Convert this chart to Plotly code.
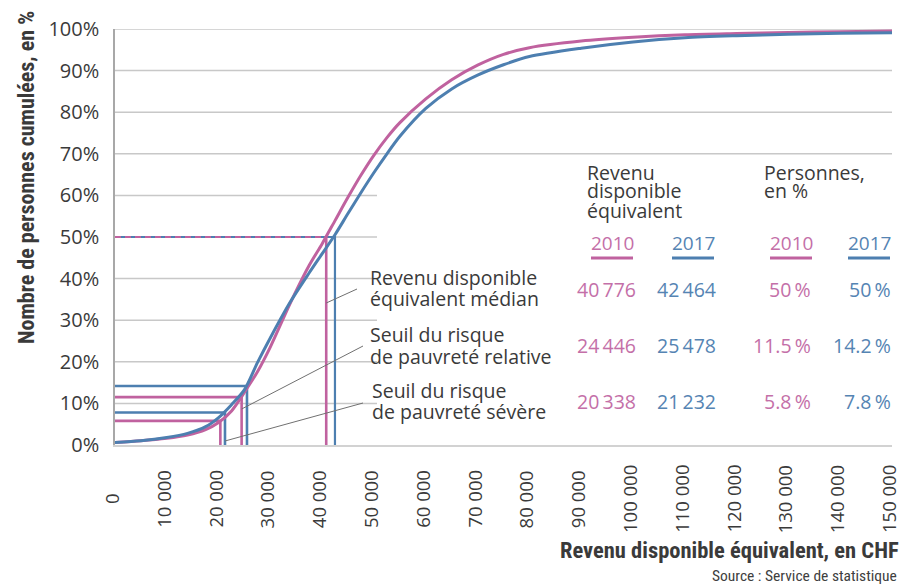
import plotly.graph_objects as go

# ---------------- data ----------------
income = [0, 5000, 10000, 14000, 17500, 20000, 22500, 25000, 27500, 30000, 33800,
          37500, 40000, 42500, 45000, 47500, 50000, 52500, 55000, 60000, 65000,
          70000, 75000, 80000, 90000, 100000, 110000, 120000, 130000, 140000, 150000]
cum_2010 = [0.6, 1.0, 1.6, 2.4, 3.7, 5.4, 8.2, 12.7, 17.6, 23.6, 34.0,
            43.2, 48.4, 54.0, 59.6, 64.9, 69.7, 73.9, 77.5, 83.2, 87.8,
            91.3, 93.9, 95.5, 97.1, 98.0, 98.6, 98.9, 99.15, 99.35, 99.5]
cum_2017 = [0.6, 1.0, 1.8, 2.8, 4.4, 6.6, 9.7, 13.3, 19.8, 25.8, 34.3,
            41.4, 46.0, 50.6, 55.7, 60.7, 65.5, 70.0, 74.2, 80.9, 85.6,
            88.9, 91.4, 93.4, 95.4, 96.9, 97.9, 98.4, 98.75, 99.0, 99.1]

years = ["2010", "2017"]
median_income = [40776, 42464]
relative_threshold = [24446, 25478]
severe_threshold = [20338, 21232]
median_pct = [50, 50]
relative_pct = [11.5, 14.2]
severe_pct = [5.8, 7.8]

x_ticks = [0, 10000, 20000, 30000, 40000, 50000, 60000, 70000, 80000, 90000,
           100000, 110000, 120000, 130000, 140000, 150000]
x_tick_labels = ["0", "10 000", "20 000", "30 000", "40 000", "50 000", "60 000",
                 "70 000", "80 000", "90 000", "100 000", "110 000", "120 000",
                 "130 000", "140 000", "150 000"]
y_ticks = [0, 10, 20, 30, 40, 50, 60, 70, 80, 90, 100]
y_tick_labels = ["0%", "10%", "20%", "30%", "40%", "50%", "60%", "70%", "80%", "90%", "100%"]

colors = ["#c0629f", "#4d7fb0"]
text_colors = ["#c46fa8", "#5584b3"]
TXT = "#3a3a3a"
FONT = "Open Sans, Noto Sans, sans-serif"
NARROW = "Liberation Sans Narrow, Roboto Condensed, DejaVu Sans Condensed, sans-serif"

# ---------------- geometry helpers ----------------
WIDTH, HEIGHT = 902, 587
L, R, T, B = 115, 892, 29, 445
X_MAX = 150000


def fx(px):
    return (px - L) / (R - L)


def fy(py):
    return (B - py) / (B - T)


def num(v):
    return f"{v:,}".replace(",", "\u2009")


def pct(v):
    return f"{v:g}" + "\u2009%"


fig = go.Figure()

# threshold reference lines
for thr, p in ((severe_threshold, severe_pct), (relative_threshold, relative_pct)):
    for i in range(2):
        fig.add_trace(go.Scatter(x=[0, thr[i], thr[i]], y=[p[i], p[i], 0], mode="lines",
                                 line=dict(color=colors[i], width=2.6), hoverinfo="skip"))
# median lines: blue solid, pink dashed horizontal on top
fig.add_trace(go.Scatter(x=[0, median_income[1], median_income[1]],
                         y=[median_pct[1], median_pct[1], 0], mode="lines",
                         line=dict(color=colors[1], width=2.2), hoverinfo="skip"))
fig.add_trace(go.Scatter(x=[median_income[0], median_income[0]], y=[median_pct[0], 0],
                         mode="lines", line=dict(color=colors[0], width=2.6), hoverinfo="skip"))
fig.add_trace(go.Scatter(x=[0, median_income[0]], y=[median_pct[0], median_pct[0]],
                         mode="lines", line=dict(color=colors[0], width=2.2, dash="6px,4px"),
                         hoverinfo="skip"))

# cumulative curves
for i, ys in enumerate((cum_2010, cum_2017)):
    fig.add_trace(go.Scatter(x=income, y=ys, mode="lines", name=years[i],
                             line=dict(color=colors[i], width=3, shape="spline", smoothing=0.8),
                             hoverinfo="skip"))

shapes = []
# gridlines (the ones under the table are cut)
for v in y_ticks[1:]:
    x1 = 1 if v >= 70 else fx(377)
    shapes.append(dict(type="line", xref="paper", yref="y", x0=0, x1=x1, y0=v, y1=v,
                       line=dict(color="#c8c8c8", width=1.5), layer="below"))

# leader lines
leaders = [((357, 289), (median_income[0], 303)),
           ((363, 346), (relative_threshold[0], 409)),
           ((363, 403), (severe_threshold[1], 441))]
for (sx, sy), (ex, ey) in leaders:
    shapes.append(dict(type="line", xref="paper", yref="paper",
                       x0=fx(sx), y0=fy(sy), x1=ex / X_MAX, y1=fy(ey),
                       line=dict(color="#707070", width=1)))

# year underlines in the table
col_centers = [612, 693, 791, 869]
for k, cx in enumerate(col_centers):
    shapes.append(dict(type="line", xref="paper", yref="paper",
                       x0=fx(cx - 21), x1=fx(cx + 21), y0=fy(258), y1=fy(258),
                       line=dict(color=colors[k % 2], width=3)))

annotations = []


def ann(text, px, py, xanchor="left", color=TXT, size=19.5, family=FONT, angle=0):
    annotations.append(dict(text=text, x=fx(px), y=fy(py), xref="paper", yref="paper",
                            xanchor=xanchor, yanchor="middle", showarrow=False, textangle=angle,
                            font=dict(color=color, size=size, family=family)))


# x tick labels (rotated, centred)
for v, lab in zip(x_ticks, x_tick_labels):
    annotations.append(dict(text=lab, x=v, xref="x", y=fy(499), yref="paper",
                            xanchor="center", yanchor="middle", showarrow=False, xshift=-4,
                            textangle=-90, font=dict(color=TXT, size=18.5, family=FONT)))

# axis titles and source
ann("<b>Nombre de personnes cumulées, en %</b>", 27, 178, xanchor="center",
    size=22, family=NARROW, angle=-90)
ann("<b>Revenu disponible équivalent, en CHF</b>", 901, 550, xanchor="right",
    size=22.5, family=NARROW)
ann("Source : Service de statistique", 899, 576, xanchor="right", size=15.5, family=NARROW,
    color="#404040")

# callout labels
ann("Revenu disponible", 368, 277)
ann("équivalent médian", 368, 298)
ann("Seuil du risque", 368, 334)
ann("de pauvreté relative", 368, 356)
ann("Seuil du risque", 370, 390)
ann("de pauvreté sévère", 370, 411)

# table header
ann("Revenu", 585, 172)
ann("disponible", 585, 191)
ann("équivalent", 585, 210)
ann("Personnes,", 762, 172)
ann("en %", 762, 191)
for k, cx in enumerate(col_centers):
    ann(years[k % 2], cx, 243, xanchor="center", color=text_colors[k % 2], size=19)

col_rights = [638, 718, 813, 893]
rows = [(median_income, median_pct, 289),
        (relative_threshold, relative_pct, 345),
        (severe_threshold, severe_pct, 401)]
for inc, pc, py in rows:
    for i in range(2):
        ann(num(inc[i]), col_rights[i], py, xanchor="right", color=text_colors[i], size=19.5)
        ann(pct(pc[i]), col_rights[2 + i], py, xanchor="right", color=text_colors[i], size=19.5)

fig.update_layout(
    width=WIDTH, height=HEIGHT, autosize=False,
    margin=dict(l=L, r=WIDTH - R, t=T, b=HEIGHT - B, pad=0),
    paper_bgcolor="white", plot_bgcolor="white",
    showlegend=False,
    font=dict(family=FONT, color=TXT),
    shapes=shapes, annotations=annotations,
    xaxis=dict(range=[0, X_MAX], showticklabels=False, showgrid=False, zeroline=False,
               showline=True, linecolor="#d2d2d2", linewidth=2, ticks="", fixedrange=True),
    yaxis=dict(range=[0, 100], tickvals=y_ticks, ticktext=y_tick_labels, showgrid=False,
               zeroline=False, showline=True, linecolor="#a8a8a8", linewidth=1.5, ticks="",
               ticklabelstandoff=10, tickfont=dict(size=20, family=FONT, color=TXT),
               fixedrange=True, automargin=False),
)

fig.write_html("out.html", config={"displayModeBar": False},
               post_script="document.body.style.margin='0px';document.body.style.overflow='hidden';")
